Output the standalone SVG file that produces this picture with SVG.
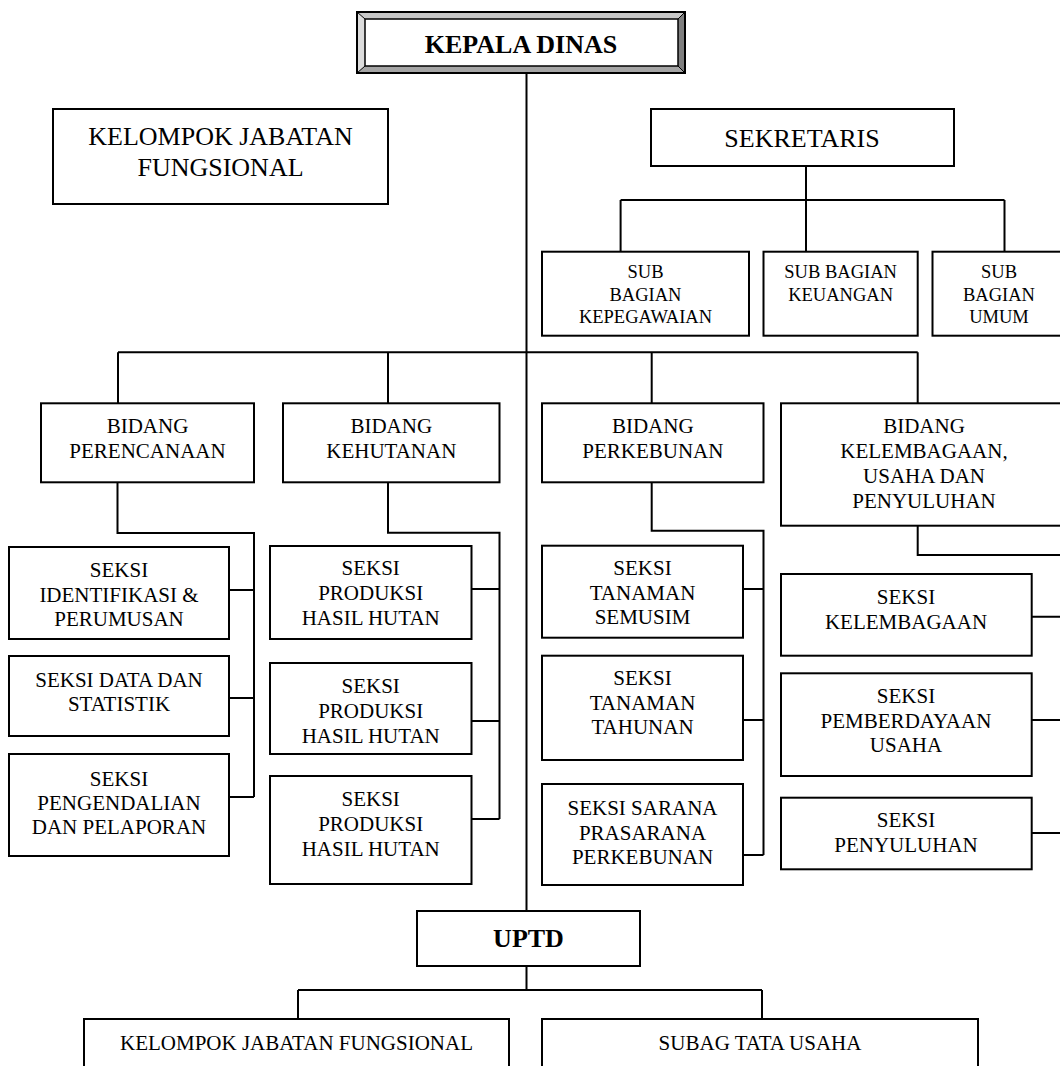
<svg xmlns="http://www.w3.org/2000/svg" width="1060" height="1066" viewBox="0 0 1060 1066">
<style>
  .box { fill: #ffffff; stroke: #000000; stroke-width: 2; }
  .ln { fill: none; stroke: #000000; stroke-width: 2; }
  text { font-family: "Liberation Serif", "Times New Roman", serif; fill: #000000; text-anchor: middle; }
  .t21 { font-size: 21px; }
  .t18 { font-size: 18.5px; }
  .t26 { font-size: 26px; }
  .b26 { font-size: 26px; font-weight: bold; }
</style>
<rect x="0" y="0" width="1060" height="1066" fill="#ffffff"/>

<g id="connectors">
  <!-- trunk -->
  <path class="ln" d="M526.5 73 V911"/>
  <!-- sekretaris -->
  <path class="ln" d="M806 166 V251.7 M620.6 200 H1004.5 M620.6 200 V251.7 M1004.5 200 V251.7"/>
  <!-- bidang bus -->
  <path class="ln" d="M118 352.3 H917.7 M118 352.3 V403.3 M388 352.3 V403.3 M651.7 352.3 V403.3 M917.7 352.3 V403.3"/>
  <!-- perencanaan -->
  <path class="ln" d="M117.5 482.3 V533 H254 V797 M229 590 H254 M229 698 H254 M229 797 H254"/>
  <!-- kehutanan -->
  <path class="ln" d="M388 482.3 V532.7 H499.5 V819 M471.5 589 H499.5 M471.5 721 H499.5 M471.5 819 H499.5"/>
  <!-- perkebunan -->
  <path class="ln" d="M651.7 482.3 V530.7 H763.5 V855 M743 589 H763.5 M743 720 H763.5 M743 855 H763.5"/>
  <!-- kelembagaan -->
  <path class="ln" d="M917.7 525.7 V555 H1064 V833 M1031.7 616.7 H1064 M1031.7 720 H1064 M1031.7 833 H1064"/>
  <!-- uptd -->
  <path class="ln" d="M526.5 966 V990 M298 990 H762 M298 990 V1019 M762 990 V1019"/>
</g>

<g id="kepala-dinas">
  <rect x="357" y="12" width="328" height="61" fill="#ffffff" stroke="#000" stroke-width="2"/>
  <polygon points="357,12 685,12 678,19 365,19" fill="#c8c8c8"/>
  <polygon points="357,12 365,19 365,66 357,73" fill="#dcdcdc"/>
  <polygon points="685,12 685,73 678,66 678,19" fill="#7f7f7f"/>
  <polygon points="357,73 685,73 678,66 365,66" fill="#a5a5a5"/>
  <rect x="357" y="12" width="328" height="61" fill="none" stroke="#000" stroke-width="2"/>
  <rect x="365" y="19" width="313" height="47" fill="#ffffff" stroke="#000" stroke-width="1.5"/>
  <path d="M357 12 L365 19 M685 12 L678 19 M357 73 L365 66 M685 73 L678 66" stroke="#000" stroke-width="1"/>
  <text class="b26" x="521" y="53">KEPALA DINAS</text>
</g>

<g id="kelompok-jabatan-fungsional-atas">
  <rect class="box" x="53" y="109" width="335" height="95"/>
  <text class="t26" x="220.5" y="145">KELOMPOK JABATAN</text>
  <text class="t26" x="220.5" y="176">FUNGSIONAL</text>
</g>

<g id="sekretaris">
  <rect class="box" x="651" y="109" width="303" height="57"/>
  <text class="t26" x="802" y="146.5">SEKRETARIS</text>
</g>

<g id="sub-kepegawaian">
  <rect class="box" x="542" y="251.7" width="207" height="84"/>
  <text class="t18" x="645.5" y="278.3">SUB</text>
  <text class="t18" x="645.5" y="301">BAGIAN</text>
  <text class="t18" x="645.5" y="323.3">KEPEGAWAIAN</text>
</g>

<g id="sub-keuangan">
  <rect class="box" x="763.5" y="251.7" width="154.2" height="84"/>
  <text class="t18" x="840.6" y="278.3">SUB BAGIAN</text>
  <text class="t18" x="840.6" y="301">KEUANGAN</text>
</g>

<g id="sub-umum">
  <rect class="box" x="932.5" y="251.7" width="134" height="84"/>
  <text class="t18" x="999" y="278.3">SUB</text>
  <text class="t18" x="999" y="301">BAGIAN</text>
  <text class="t18" x="999" y="323.3">UMUM</text>
</g>

<g id="bidang-perencanaan">
  <rect class="box" x="41" y="403.3" width="213" height="79"/>
  <text class="t21" x="147.5" y="433">BIDANG</text>
  <text class="t21" x="147.5" y="458">PERENCANAAN</text>
</g>

<g id="bidang-kehutanan">
  <rect class="box" x="283" y="403.3" width="216.5" height="79"/>
  <text class="t21" x="391.3" y="433">BIDANG</text>
  <text class="t21" x="391.3" y="458">KEHUTANAN</text>
</g>

<g id="bidang-perkebunan">
  <rect class="box" x="542" y="403.3" width="221.5" height="79"/>
  <text class="t21" x="652.8" y="433">BIDANG</text>
  <text class="t21" x="652.8" y="458">PERKEBUNAN</text>
</g>

<g id="bidang-kelembagaan">
  <rect class="box" x="781" y="403.3" width="286" height="122.4"/>
  <text class="t21" x="924" y="433">BIDANG</text>
  <text class="t21" x="924" y="458">KELEMBAGAAN,</text>
  <text class="t21" x="924" y="483">USAHA DAN</text>
  <text class="t21" x="924" y="507.5">PENYULUHAN</text>
</g>

<g id="seksi-identifikasi">
  <rect class="box" x="9" y="547" width="220" height="92"/>
  <text class="t21" x="119" y="577">SEKSI</text>
  <text class="t21" x="119" y="601.5">IDENTIFIKASI &amp;</text>
  <text class="t21" x="119" y="626">PERUMUSAN</text>
</g>

<g id="seksi-data">
  <rect class="box" x="9" y="656" width="220" height="80"/>
  <text class="t21" x="119" y="686.5">SEKSI DATA DAN</text>
  <text class="t21" x="119" y="711">STATISTIK</text>
</g>

<g id="seksi-pengendalian">
  <rect class="box" x="9" y="754" width="220" height="102"/>
  <text class="t21" x="119" y="786">SEKSI</text>
  <text class="t21" x="119" y="810">PENGENDALIAN</text>
  <text class="t21" x="119" y="834">DAN PELAPORAN</text>
</g>

<g id="seksi-produksi-1">
  <rect class="box" x="270" y="546" width="201.5" height="93"/>
  <text class="t21" x="370.7" y="575">SEKSI</text>
  <text class="t21" x="370.7" y="600">PRODUKSI</text>
  <text class="t21" x="370.7" y="625">HASIL HUTAN</text>
</g>

<g id="seksi-produksi-2">
  <rect class="box" x="270" y="663" width="201.5" height="91"/>
  <text class="t21" x="370.7" y="693">SEKSI</text>
  <text class="t21" x="370.7" y="718">PRODUKSI</text>
  <text class="t21" x="370.7" y="743">HASIL HUTAN</text>
</g>

<g id="seksi-produksi-3">
  <rect class="box" x="270" y="776" width="201.5" height="108"/>
  <text class="t21" x="370.7" y="806">SEKSI</text>
  <text class="t21" x="370.7" y="831">PRODUKSI</text>
  <text class="t21" x="370.7" y="856">HASIL HUTAN</text>
</g>

<g id="seksi-tanaman-semusim">
  <rect class="box" x="542" y="545.7" width="201" height="92"/>
  <text class="t21" x="642.5" y="575">SEKSI</text>
  <text class="t21" x="642.5" y="599.5">TANAMAN</text>
  <text class="t21" x="642.5" y="624">SEMUSIM</text>
</g>

<g id="seksi-tanaman-tahunan">
  <rect class="box" x="542" y="655.7" width="201" height="104.3"/>
  <text class="t21" x="642.5" y="685">SEKSI</text>
  <text class="t21" x="642.5" y="709.5">TANAMAN</text>
  <text class="t21" x="642.5" y="734">TAHUNAN</text>
</g>

<g id="seksi-sarana">
  <rect class="box" x="542" y="784" width="201" height="101"/>
  <text class="t21" x="642.5" y="815">SEKSI SARANA</text>
  <text class="t21" x="642.5" y="839.5">PRASARANA</text>
  <text class="t21" x="642.5" y="864">PERKEBUNAN</text>
</g>

<g id="seksi-kelembagaan">
  <rect class="box" x="781" y="574" width="250.7" height="81.7"/>
  <text class="t21" x="906" y="604">SEKSI</text>
  <text class="t21" x="906" y="628.5">KELEMBAGAAN</text>
</g>

<g id="seksi-pemberdayaan">
  <rect class="box" x="781" y="673.3" width="250.7" height="102.7"/>
  <text class="t21" x="906" y="703.3">SEKSI</text>
  <text class="t21" x="906" y="727.8">PEMBERDAYAAN</text>
  <text class="t21" x="906" y="752.3">USAHA</text>
</g>

<g id="seksi-penyuluhan">
  <rect class="box" x="781" y="797.7" width="250.7" height="71.6"/>
  <text class="t21" x="906" y="827">SEKSI</text>
  <text class="t21" x="906" y="851.5">PENYULUHAN</text>
</g>

<g id="uptd">
  <rect class="box" x="417" y="911" width="223" height="55"/>
  <text class="b26" x="528.5" y="946.7">UPTD</text>
</g>

<g id="kelompok-jabatan-fungsional-uptd">
  <rect class="box" x="84" y="1019" width="425" height="70"/>
  <text class="t21" x="296.5" y="1050">KELOMPOK JABATAN FUNGSIONAL</text>
</g>

<g id="subag-tata-usaha">
  <rect class="box" x="542" y="1019" width="436" height="70"/>
  <text class="t21" x="760" y="1050">SUBAG TATA USAHA</text>
</g>
</svg>
